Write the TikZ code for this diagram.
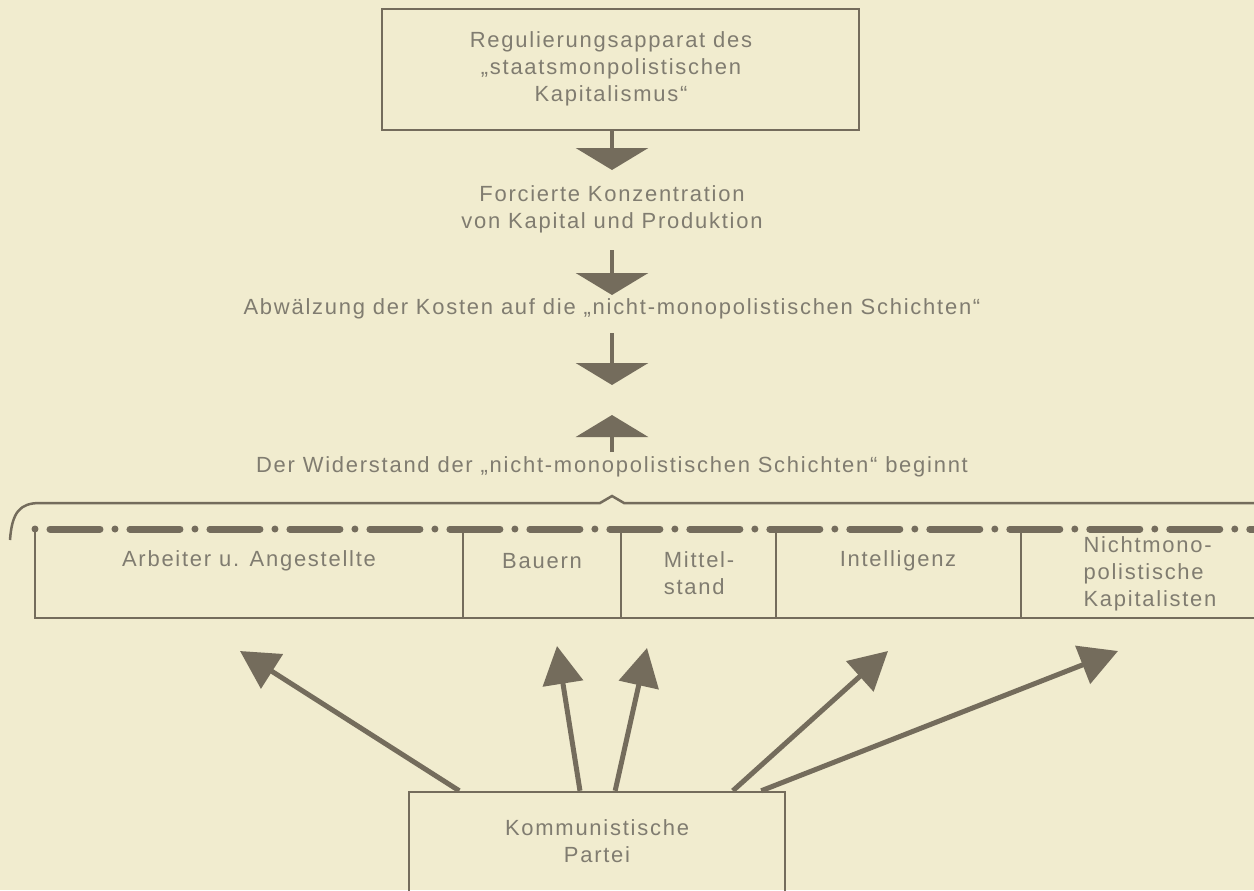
\documentclass[tikz,border=0pt]{standalone}
\usepackage{fontspec}
\setmainfont{Liberation Sans}[LetterSpace=8]
\usetikzlibrary{arrows.meta,calc}
\definecolor{paper}{RGB}{241,236,207}
\definecolor{ink}{RGB}{116,108,92}
\definecolor{inktext}{RGB}{128,124,112}

\begin{document}
\begin{tikzpicture}[x=0.02cm,y=-0.02cm,
    every node/.style={text=inktext,font=\fontsize{12.5}{15.2}\selectfont,align=center},
    frame/.style={draw=ink,line width=0.05cm},
    flow/.style={draw=ink,line width=0.08cm,-{Triangle[width=1.44cm,length=0.44cm]}},
    ray/.style={draw=ink,line width=0.1cm,-{Triangle[width=0.8cm,length=0.76cm]}},
    dashdot/.style={draw=ink,line width=0.14cm,line cap=round,
      dash pattern=on 0cm off 0.3cm on 1.0cm off 0.3cm}]
     \useasboundingbox (0,0) rectangle (1254,890);
     \fill[paper] (0,0) rectangle (1254,890);

     % top of the chain
     \node[frame,minimum width=9.54cm,minimum height=2.42cm] (apparat) at (620.5,69.5) {};
     \node (apparattext) at (611,69) {Regulierungsapparat des\\„staatsmonpolistischen\\Kapitalismus“};
     \coordinate (axis) at (612,0);

     \node (konz) at (612,209) {Forcierte Konzentration\\von Kapital und Produktion};
     \node (kosten) at (612,309) {Abwälzung der Kosten auf die „nicht-monopolistischen Schichten“};
     \node (widerstand) at (612,467) {Der Widerstand der „nicht-monopolistischen Schichten“ beginnt};

     \coordinate (a1) at (axis |- apparat.south);
     \coordinate (a1t) at (612,170);
     \coordinate (a2) at (612,250);
     \coordinate (a2t) at (612,295);
     \coordinate (a3) at (612,333);
     \coordinate (a3t) at (612,385);
     \coordinate (a4) at (612,452);
     \coordinate (a4t) at (612,415);
     \draw [flow] (a1) -- (a1t);
     \draw [flow] (a2) -- (a2t);
     \draw [flow] (a3) -- (a3t);
     \draw [flow] (a4) -- (a4t);

     % bracket over the strata
     \draw [frame] (10,540) .. controls (12,512) and (20,503) .. (40,503)
        -- (600,503) -- (612,496) -- (624,503) -- (1254,503);

     % the strata
     \draw [frame] (35,529) -- (35,618) -- (1254,618);
     \foreach \x in {463,621,776,1021}
        \draw [frame] (\x,529) -- (\x,618);
     \draw [dashdot] (35,529) -- (1254,529);

     \node (arbeiter) at (249,561) {Arbeiter u. Angestellte};
     \node (bauern) at (542,561) {Bauern};
     \node[align=left] (mittel) at (699,573) {Mittel-\\stand};
     \node (intell) at (898,561) {Intelligenz};
     \node[align=left] (nichtmono) at (1150,574) {Nichtmono-\\polistische\\Kapitalisten};

     % the party
     \node[frame,minimum width=7.52cm,minimum height=2.4cm] (partei) at (597,852) {};
     \node (parteitext) at (597,841) {Kommunistische\\Partei};

     \coordinate (t1) at (240,651);
     \coordinate (t2) at (557,646);
     \coordinate (t3) at (647,648);
     \coordinate (t4) at (888,651);
     \coordinate (t5) at (1118,651);
     \draw [ray] ($(partei.north west)!0.136!(partei.north east)$) -- (t1);
     \draw [ray] ($(partei.north west)!0.455!(partei.north east)$) -- (t2);
     \draw [ray] ($(partei.north west)!0.548!(partei.north east)$) -- (t3);
     \draw [ray] ($(partei.north west)!0.859!(partei.north east)$) -- (t4);
     \draw [ray] ($(partei.north west)!0.934!(partei.north east)$) -- (t5);

  \end{tikzpicture}
\end{document}
